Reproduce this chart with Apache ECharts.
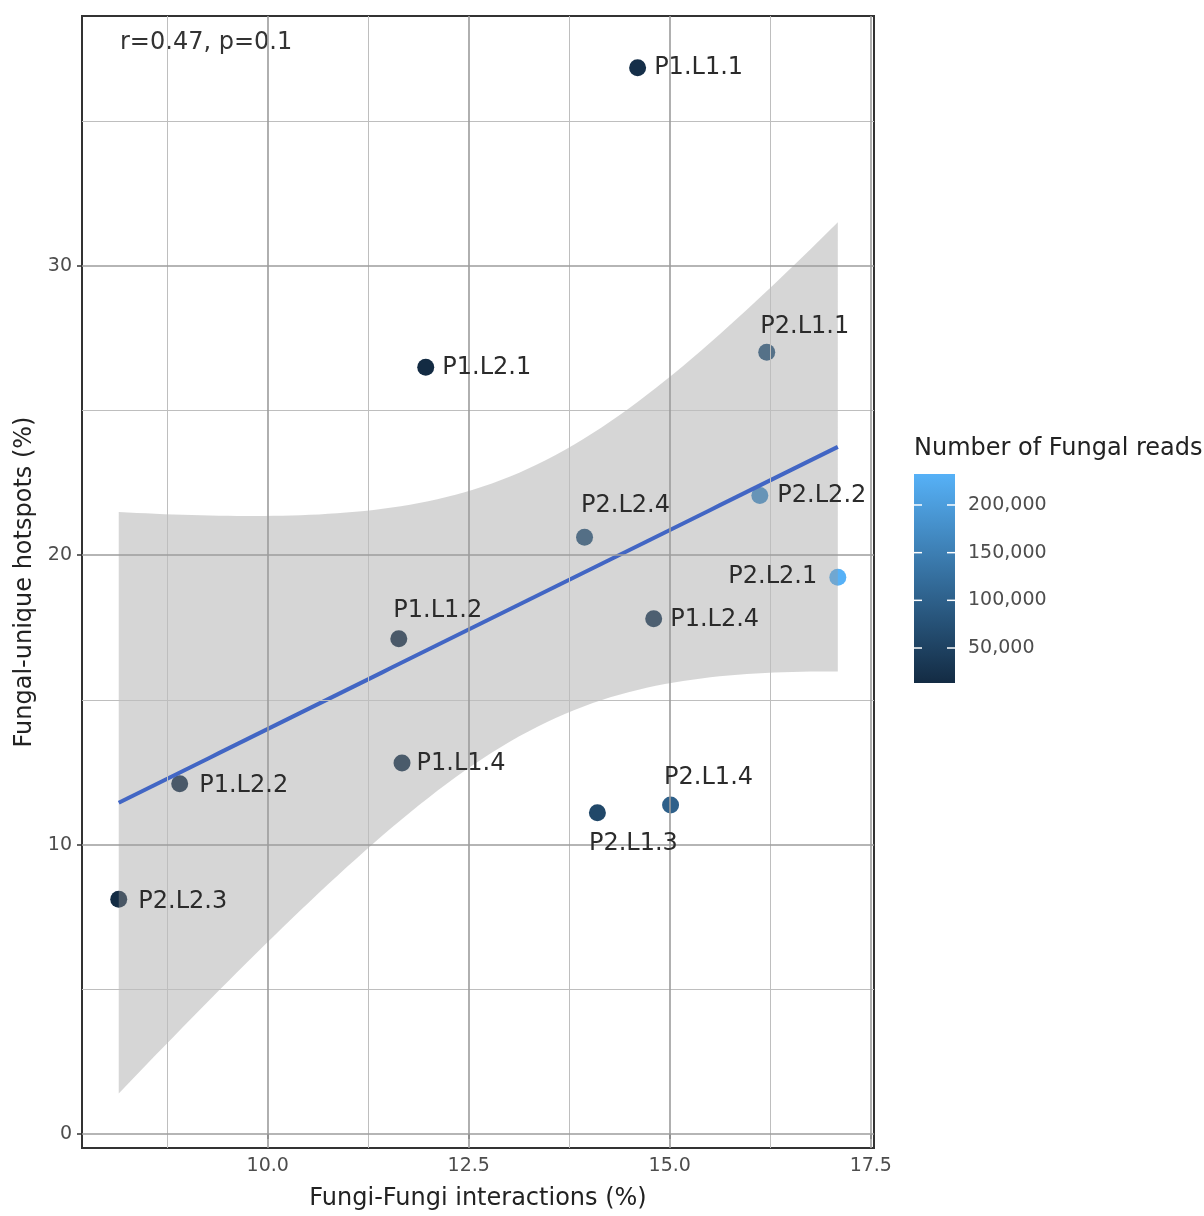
<!DOCTYPE html>
<html>
<head>
<meta charset="utf-8">
<script src="https://cdn.jsdelivr.net/npm/echarts@6/dist/echarts.min.js"></script>
<style>
  html, body { margin: 0; padding: 0; background: #ffffff; }
  #chart { width: 1204px; height: 1216px; }
</style>
</head>
<body>
<div id="chart"></div>
<script>
// ---- data -------------------------------------------------------------
const samples = ['P1.L1.1', 'P1.L2.1', 'P2.L1.1', 'P2.L2.2', 'P2.L2.4', 'P2.L2.1', 'P1.L2.4',
                 'P1.L1.2', 'P1.L1.4', 'P1.L2.2', 'P2.L1.3', 'P2.L1.4', 'P2.L2.3'];
const fungiInteractions = [14.60, 11.965, 16.206, 16.12, 13.94, 17.09, 14.80,
                           11.63, 11.67, 8.905, 14.10, 15.01, 8.147];
const uniqueHotspots = [36.84, 26.49, 27.01, 22.06, 20.62, 19.24, 17.80,
                        17.11, 12.82, 12.10, 11.10, 11.37, 8.11];
const fungalReads = [20000, 13300, 85000, 180000, 80000, 232500, 38000,
                     22000, 25000, 22000, 60000, 100000, 15000];

const xTicks = [10.0, 12.5, 15.0, 17.5];
const xMinorTicks = [8.75, 11.25, 13.75, 16.25];
const yTicks = [0, 10, 20, 30];
const yMinorTicks = [5, 15, 25, 35];
const readTicks = [50000, 100000, 150000, 200000];
const statsText = 'r=0.47, p=0.1';

// label placement (pixel offsets of each label centre from its point)
const labelOffsets = [[61, 0], [61, 0], [38, -25], [62, 0], [41, -31], [-65, 0], [61, 1],
                      [39, -28], [59, 1], [64, 2], [36, 31], [38, -27], [64, 2]];

// ---- linear model with 95% confidence band ---------------------------
const T_CRIT = 2.200985; // qt(0.975, df = 11) for 13 samples
function linearFit(xs, ys) {
  const n = xs.length;
  const xbar = xs.reduce((a, b) => a + b, 0) / n;
  const ybar = ys.reduce((a, b) => a + b, 0) / n;
  let sxx = 0, sxy = 0;
  for (let i = 0; i < n; i++) {
    sxx += (xs[i] - xbar) ** 2;
    sxy += (xs[i] - xbar) * (ys[i] - ybar);
  }
  const slope = sxy / sxx;
  const intercept = ybar - slope * xbar;
  let sse = 0;
  for (let i = 0; i < n; i++) sse += (ys[i] - intercept - slope * xs[i]) ** 2;
  const s = Math.sqrt(sse / (n - 2));
  return { n, xbar, sxx, slope, intercept, s };
}
const fit = linearFit(fungiInteractions, uniqueHotspots);
const xLo = Math.min(...fungiInteractions);
const xHi = Math.max(...fungiInteractions);
const bandData = [];
const fitLine = [];
for (let k = 0; k < 80; k++) {
  const x = xLo + (xHi - xLo) * k / 79;
  const yhat = fit.intercept + fit.slope * x;
  const se = fit.s * Math.sqrt(1 / fit.n + (x - fit.xbar) ** 2 / fit.sxx);
  bandData.push([x, yhat - T_CRIT * se, yhat + T_CRIT * se]);
  fitLine.push([x, yhat]);
}

// ---- chart -----------------------------------------------------------
const FONT = 'DejaVu Sans';
const readMin = Math.min(...fungalReads);
const readMax = Math.max(...fungalReads);
const lowColor = '#132B43';
const highColor = '#56B1F7';

const chart = echarts.init(document.getElementById('chart'), null, { renderer: 'canvas' });

const majorStyle = { color: '#9c9c9c', width: 1.6, type: 'solid' };
const minorStyle = { color: '#bebebe', width: 1, type: 'solid' };
const gridLines = []
  .concat(xMinorTicks.map(v => ({ xAxis: v, lineStyle: minorStyle })))
  .concat(yMinorTicks.map(v => ({ yAxis: v, lineStyle: minorStyle })))
  .concat(xTicks.map(v => ({ xAxis: v, lineStyle: majorStyle })))
  .concat(yTicks.map(v => ({ yAxis: v, lineStyle: majorStyle })));

const option = {
  animation: false,
  backgroundColor: '#ffffff',
  textStyle: { fontFamily: FONT },
  grid: [
    { left: 82, right: 330, top: 16, bottom: 62, show: true,
      backgroundColor: '#ffffff', borderColor: '#333333', borderWidth: 2 },
    { left: 914, top: 474, width: 41, height: 209 }
  ],
  xAxis: [
    {
      gridIndex: 0, type: 'value', min: 7.69, max: 17.54,
      name: 'Fungi-Fungi interactions (%)', nameLocation: 'middle', nameGap: 39,
      nameTextStyle: { fontSize: 24, color: '#222222', fontFamily: FONT },
      axisLine: { show: false },
      splitLine: { show: false },
      axisTick: { show: true, customValues: xTicks, length: 5, lineStyle: { color: '#333333', width: 1.5 } },
      axisLabel: { customValues: xTicks, formatter: v => v.toFixed(1), color: '#4d4d4d',
                   fontSize: 19, margin: 9, fontFamily: FONT }
    },
    { gridIndex: 1, type: 'value', min: 0, max: 1, show: false }
  ],
  yAxis: [
    {
      gridIndex: 0, type: 'value', min: -0.48, max: 38.625,
      name: 'Fungal-unique hotspots (%)', nameLocation: 'middle', nameGap: 41, nameRotate: 90,
      nameTextStyle: { fontSize: 24, color: '#222222', fontFamily: FONT },
      axisLine: { show: false },
      splitLine: { show: false },
      axisTick: { show: true, customValues: yTicks, length: 5, lineStyle: { color: '#333333', width: 1.5 } },
      axisLabel: { customValues: yTicks, color: '#4d4d4d', fontSize: 19, margin: 10, fontFamily: FONT }
    },
    {
      gridIndex: 1, type: 'value', position: 'right', min: readMin, max: readMax,
      axisLine: { show: false }, splitLine: { show: false }, axisTick: { show: false },
      axisLabel: { customValues: readTicks, formatter: v => v.toLocaleString('en-US'),
                   color: '#4d4d4d', fontSize: 19, margin: 13, fontFamily: FONT }
    }
  ],
  visualMap: {
    type: 'continuous', show: false, seriesIndex: 1, dimension: 2,
    min: readMin, max: readMax,
    inRange: { color: [lowColor, highColor] }
  },
  graphic: [
    { type: 'text', left: 120, top: 31, silent: true,
      style: { text: statsText, fontSize: 24, fill: '#333333', fontFamily: FONT } },
    { type: 'text', left: 914, top: 437, silent: true,
      style: { text: 'Number of Fungal reads', fontSize: 24, fill: '#222222', fontFamily: FONT } }
  ],
  series: [
    // panel grid lines
    {
      type: 'line', xAxisIndex: 0, yAxisIndex: 0, data: [], z: 1, silent: true,
      markLine: { silent: true, symbol: ['none', 'none'], label: { show: false },
                  animation: false, data: gridLines }
    },
    // samples
    {
      type: 'scatter', xAxisIndex: 0, yAxisIndex: 0, z: 2, symbolSize: 17,
      itemStyle: { opacity: 1 },
      data: samples.map((s, i) => [fungiInteractions[i], uniqueHotspots[i], fungalReads[i], s])
    },
    // 95% confidence band
    {
      type: 'custom', xAxisIndex: 0, yAxisIndex: 0, z: 3, silent: true,
      data: bandData, encode: { x: 0, y: [1, 2] },
      renderItem: (params, api) => {
        if (params.dataIndex !== 0) return null;
        const upper = bandData.map(d => api.coord([d[0], d[2]]));
        const lower = bandData.slice().reverse().map(d => api.coord([d[0], d[1]]));
        return { type: 'polygon', shape: { points: upper.concat(lower) },
                 style: { fill: 'rgba(153,153,153,0.4)' } };
      }
    },
    // fitted line
    {
      type: 'line', xAxisIndex: 0, yAxisIndex: 0, z: 4, data: fitLine,
      showSymbol: false, silent: true,
      lineStyle: { color: '#4266C4', width: 4 }
    },
    // sample names
    {
      type: 'scatter', xAxisIndex: 0, yAxisIndex: 0, z: 5, symbolSize: 1, silent: true,
      itemStyle: { color: 'rgba(0,0,0,0)', opacity: 1 },
      data: samples.map((s, i) => ({
        value: [fungiInteractions[i], uniqueHotspots[i]], name: s,
        label: { offset: labelOffsets[i] }
      })),
      label: { show: true, position: 'inside', formatter: p => p.name,
               color: '#2b2b2b', fontSize: 24, fontFamily: FONT }
    },
    // colour bar with white tick marks on both edges
    {
      type: 'custom', xAxisIndex: 1, yAxisIndex: 1, z: 2, silent: true,
      data: [[0.5, readMin, readMax]],
      renderItem: (params, api) => {
        const cs = params.coordSys;
        const top = api.coord([0, readMax]);
        const bottom = api.coord([0, readMin]);
        const children = [{
          type: 'rect',
          shape: { x: cs.x, y: top[1], width: cs.width, height: bottom[1] - top[1] },
          style: { fill: new echarts.graphic.LinearGradient(0, 1, 0, 0, [
            { offset: 0, color: lowColor }, { offset: 1, color: highColor }]) }
        }];
        readTicks.forEach(v => {
          const y = api.coord([0, v])[1];
          children.push({ type: 'line', shape: { x1: cs.x, y1: y, x2: cs.x + 8, y2: y },
                          style: { stroke: '#ffffff', lineWidth: 1.5 } });
          children.push({ type: 'line', shape: { x1: cs.x + cs.width - 8, y1: y, x2: cs.x + cs.width, y2: y },
                          style: { stroke: '#ffffff', lineWidth: 1.5 } });
        });
        return { type: 'group', children };
      }
    }
  ]
};
chart.setOption(option);
</script>
</body>
</html>
